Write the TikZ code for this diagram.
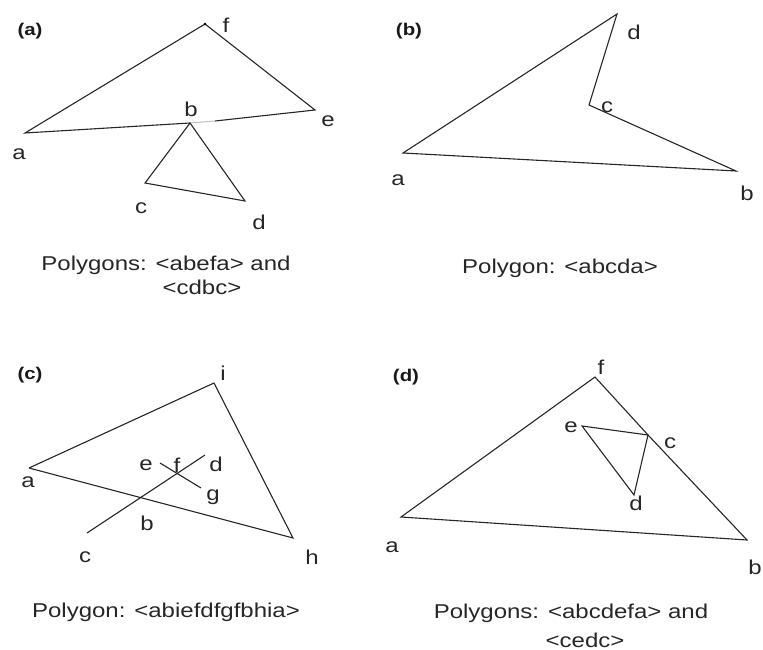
\documentclass[tikz,border=0pt]{standalone}
\usepackage{fontspec}
\setmainfont{Liberation Sans}
\newfontfamily\wfont[FakeStretch=1.2]{Liberation Sans}
\begin{document}
\begin{tikzpicture}[x=1pt,y=-1pt,
  edge/.style={draw=black!85, line width=1.1pt, line join=miter},
  vlbl/.style={font=\wfont\fontsize{20}{22}\selectfont, inner sep=0pt, text=black!85},
  captext/.style={font=\wfont\fontsize{20}{22}\selectfont, inner sep=0pt, text=black!85},
  plbl/.style={font=\wfont\fontsize{17}{19}\selectfont\bfseries, inner sep=0pt, text=black!90}]
\useasboundingbox (0,0) rectangle (763,650);

% ---------- (a) ----------
\node[plbl] (pa) at (30,31) {(a)};
\coordinate (Af) at (205,24);
\coordinate (Aa) at (25,133);
\coordinate (Ae) at (315,110);
\coordinate (Ab) at (190,123);
\coordinate (Ag) at (215,121);
\coordinate (Ac) at (145,183);
\coordinate (Ad) at (245,201);
\draw[edge] (Ag) -- (Ae) -- (Af) -- (Aa) -- (Ab);
\draw[draw=black!25, line width=1pt] (Ab) -- (Ag);
\draw[edge] (Ab) -- (Ac) -- (Ad) -- cycle;
\fill[black] (Af) circle (1.4pt);
\node[vlbl] (laf) at (226,25) {f};
\node[vlbl] (laa) at (19,154) {a};
\node[vlbl] (lae) at (328,121) {e};
\node[vlbl] (lab) at (191,109) {b};
\node[vlbl] (lac) at (141,208) {c};
\node[vlbl] (lad) at (259,222) {d};
\node[captext] (capa1) at (166,265) {Polygons: <abefa> and};
\node[captext] (capa2) at (202,287) {<cdbc>};

% ---------- (b) ----------
\node[plbl] (pb) at (409,31) {(b)};
\coordinate (Bd) at (617,14);
\coordinate (Bc) at (589,105);
\coordinate (Bb) at (736,171);
\coordinate (Ba) at (403,153);
\draw[edge] (Ba) -- (Bb) -- (Bc) -- (Bd) -- cycle;
\node[vlbl] (lbd) at (634,32) {d};
\node[vlbl] (lbc) at (607,107) {c};
\node[vlbl] (lbb) at (747,193) {b};
\node[vlbl] (lba) at (398,180) {a};
\node[captext] (capb) at (560,268) {Polygon: <abcda>};

% ---------- (c) ----------
\node[plbl] (pc) at (30,375) {(c)};
\coordinate (Ci) at (214,383);
\coordinate (Ca) at (29,468);
\coordinate (Ch) at (293,538);
\coordinate (Cb) at (140,498);
\coordinate (Cc) at (87,533);
\coordinate (Cd) at (205,455);
\coordinate (Ce) at (160,463);
\coordinate (Cf) at (177,474);
\coordinate (Cg) at (201,488);
\draw[edge] (Ca) -- (Ci) -- (Ch) -- (Ca);
\draw[edge] (Cc) -- (Cd);
\draw[edge] (Ce) -- (Cg);
\node[vlbl] (lci) at (223,373) {i};
\node[vlbl] (lca) at (28,482) {a};
\node[vlbl] (lch) at (312,557) {h};
\node[vlbl] (lcb) at (147,523) {b};
\node[vlbl] (lcc) at (85,557) {c};
\node[vlbl] (lcd) at (216,464) {d};
\node[vlbl] (lce) at (146,465) {e};
\node[vlbl] (lcf) at (177,465) {f};
\node[vlbl] (lcg) at (213,497) {g};
\node[captext] (capc) at (166,612) {Polygon: <abiefdfgfbhia>};

% ---------- (d) ----------
\node[plbl] (pd) at (406,377) {(d)};
\coordinate (Df) at (595,377);
\coordinate (Da) at (401,517);
\coordinate (Db) at (747,540);
\coordinate (Dc) at (648,435);
\coordinate (De) at (582,426);
\coordinate (Dd) at (634,495);
\draw[edge] (Da) -- (Db) -- (Dc) -- (Df) -- cycle;
\draw[edge] (Dc) -- (De) -- (Dd) -- cycle;
\node[vlbl] (ldf) at (601,367) {f};
\node[vlbl] (lda) at (392,547) {a};
\node[vlbl] (ldb) at (755,567) {b};
\node[vlbl] (ldc) at (670,443) {c};
\node[vlbl] (lde) at (571,427) {e};
\node[vlbl] (ldd) at (636,503) {d};
\node[captext] (capd1) at (571,613) {Polygons: <abcdefa> and};
\node[captext] (capd2) at (585,640) {<cedc>};
\end{tikzpicture}
\end{document}
